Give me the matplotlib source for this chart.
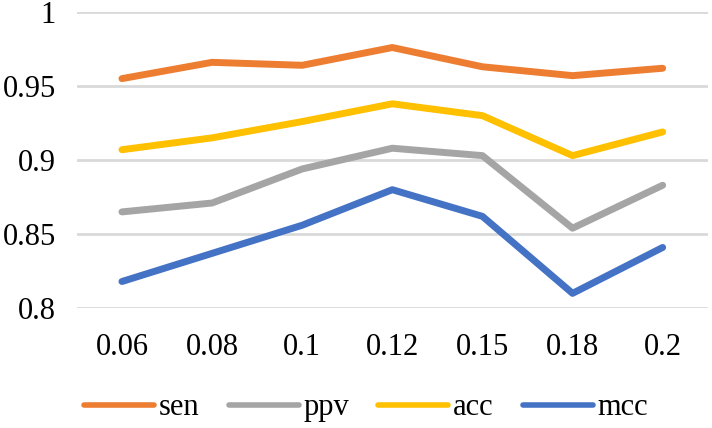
import matplotlib.pyplot as plt
from matplotlib.lines import Line2D

# thresholds on the x axis (categorical)
thresholds = ['0.06', '0.08', '0.1', '0.12', '0.15', '0.18', '0.2']

sen = [0.955, 0.966, 0.964, 0.976, 0.963, 0.957, 0.962]
ppv = [0.865, 0.871, 0.894, 0.908, 0.903, 0.854, 0.883]
acc = [0.907, 0.915, 0.926, 0.938, 0.930, 0.903, 0.919]
mcc = [0.818, 0.837, 0.856, 0.880, 0.862, 0.810, 0.841]

series = [('sen', sen, '#ED7D31'),
          ('ppv', ppv, '#A5A5A5'),
          ('acc', acc, '#FFC000'),
          ('mcc', mcc, '#4472C4')]

plt.rcParams['font.family'] = ['Liberation Serif', 'DejaVu Serif']

fig = plt.figure(figsize=(7.12, 4.28), dpi=100)
ax = fig.add_axes([0.108, 0.28, 0.886, 0.692])

x = range(len(thresholds))
for name, vals, color in series:
    ax.plot(x, vals, color=color, lw=5, solid_capstyle='round',
            solid_joinstyle='round', label=name, zorder=3)

ax.set_ylim(0.8, 1.0)
ax.set_yticks([0.8, 0.85, 0.9, 0.95, 1.0])
ax.set_yticklabels(['0.8', '0.85', '0.9', '0.95', '1'])
ax.set_xlim(-0.5, len(thresholds) - 0.5)
ax.set_xticks(list(x))
ax.set_xticklabels(thresholds)
ax.grid(axis='y', color='#D9D9D9', lw=2, zorder=0)
ax.set_axisbelow(True)
for s in ax.spines.values():
    s.set_visible(False)
ax.tick_params(length=0, labelsize=22, colors='black')
ax.tick_params(axis='y', pad=15)
ax.tick_params(axis='x', pad=18)

handles = [Line2D([0], [0], color=c, lw=4, solid_capstyle='round') for _, _, c in series]
fig.legend(handles, [n for n, _, _ in series], loc='center left', ncol=4,
           frameon=False, fontsize=22, bbox_to_anchor=(0.118, 0.047),
           handlelength=2.3, handletextpad=0.15, columnspacing=0.95,
           borderpad=0, borderaxespad=0)

fig.savefig('out.png', dpi=100)
